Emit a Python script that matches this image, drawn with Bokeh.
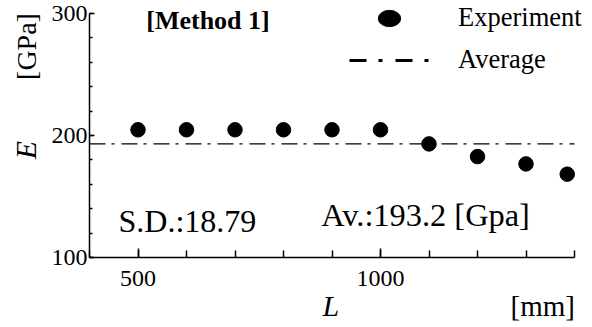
import numpy as np
from math import pi
from bokeh.plotting import figure
from bokeh.models import (Range1d, FixedTicker, Label, Legend, LegendItem)
from bokeh.embed import file_html
from bokeh.resources import INLINE

# ---- data ----
L_mm = [500, 600, 700, 800, 900, 1000, 1100, 1200, 1300, 1385]
E_gpa = [204.7, 204.7, 204.7, 204.7, 204.7, 204.7, 193.1, 182.7, 176.7, 168.3]
average = 193.2
sd_text = "S.D.:18.79"
av_text = "Av.:193.2 [Gpa]"
x_lo, x_hi = 400, 1400
y_lo, y_hi = 100, 300
x_major = [500, 1000]
x_minor = [400, 500, 600, 700, 800, 900, 1000, 1100, 1200, 1300, 1400]
y_major = [100, 200, 300]
y_minor = [100, 120, 140, 160, 180, 200, 220, 240, 260, 280, 300]

FONT = "Liberation Serif"
W, H = 592, 327
# pixel placement of the axes box inside the canvas
AX_L, AX_R, AX_T, AX_B = 89, 574, 13, 257
sx = (AX_R - AX_L) / (x_hi - x_lo)
sy = (AX_B - AX_T) / (y_hi - y_lo)

p = figure(width=W, height=H, output_backend="svg", toolbar_location=None,
           x_range=Range1d(x_lo - AX_L / sx, x_hi + (W - AX_R) / sx),
           y_range=Range1d(y_lo - (H - AX_B) / sy, y_hi + AX_T / sy))
p.min_border = 0
p.min_border_left = 0
p.min_border_right = 0
p.min_border_top = 0
p.min_border_bottom = 0
p.outline_line_alpha = 0
p.grid.visible = False
p.background_fill_color = "white"
p.border_fill_color = "white"

xa = p.xaxis[0]
xa.fixed_location = y_lo
xa.bounds = (x_lo, x_hi)
xa.ticker = FixedTicker(ticks=x_major, minor_ticks=x_minor)
xa.major_tick_in = 9
xa.major_tick_out = 0
xa.minor_tick_in = 7
xa.minor_tick_out = 0
xa.axis_line_width = 1.5
xa.major_tick_line_width = 1.5
xa.minor_tick_line_width = 1.5
xa.major_label_text_font = FONT
xa.major_label_text_font_size = "24px"
xa.major_label_text_color = "black"
xa.major_label_standoff = 13
xa.axis_line_color = "black"

ya = p.yaxis[0]
ya.fixed_location = x_lo
ya.bounds = (y_lo, y_hi)
ya.ticker = FixedTicker(ticks=y_major, minor_ticks=y_minor)
ya.major_tick_in = 5
ya.major_tick_out = 0
ya.minor_tick_in = 3
ya.minor_tick_out = 0
ya.axis_line_width = 1.5
ya.major_tick_line_width = 1.5
ya.minor_tick_line_width = 1.5
ya.major_label_text_font = FONT
ya.major_label_text_font_size = "24px"
ya.major_label_text_color = "black"
ya.major_label_standoff = 2
ya.axis_line_color = "black"

# average line across the axis extent
p.line([x_lo, x_hi], [average, average], line_color="black",
       line_width=1.3, line_dash="16 6 3 7")

# experiment points
p.scatter(L_mm, E_gpa, size=14.5, marker="circle", fill_color="black", line_color="black")

# legend-only renderers (NaN data -> nothing drawn in the plot)
nan = np.array([np.nan])
leg_ell = p.ellipse(x=nan, y=nan, width=22, height=16, width_units="screen",
                    height_units="screen", fill_color="black", line_color="black")
leg_line = p.line(x=nan, y=nan, line_color="black", line_width=3, line_dash="17 12 4 13")

common = dict(orientation="vertical", glyph_width=80, label_standoff=29,
              spacing=0, padding=0, margin=0, label_height=34,
              border_line_alpha=0, background_fill_alpha=0,
              label_text_font=FONT, label_text_font_size="26.5px", label_text_color="black")
legend1 = Legend(items=[LegendItem(label="Experiment", renderers=[leg_ell])],
                 location=(349, H - 34.8), glyph_height=28, **common)
legend2 = Legend(items=[LegendItem(label="Average", renderers=[leg_line])],
                 location=(349, H - 76.5), glyph_height=34, **common)
p.add_layout(legend1)
p.add_layout(legend2)

def lab(text, x, y, size, **kw):
    # x, y: canvas pixels from the top-left corner (text middle)
    p.add_layout(Label(text=text, x=x, y=H - y, x_units="screen", y_units="screen",
                       text_font=FONT, text_font_size=size, text_color="black",
                       text_baseline="middle", **kw))

lab("[Method 1]", 207.5, 20, "26px", text_font_style="bold", text_align="center")
lab(sd_text, 118, 220.5, "32px")
lab(av_text, 320.7, 214.1, "32.4px")
lab("L", 322, 305.4, "30px", text_font_style="italic")
lab("[mm]", 510, 305.7, "29px")
lab("E", 24.9, 149.5, "30px", text_font_style="italic", angle=pi/2, text_align="center")
lab("[GPa]", 25.5, 46, "28px", angle=pi/2, text_align="center")

open("out.html", "w").write(file_html(p, INLINE))
